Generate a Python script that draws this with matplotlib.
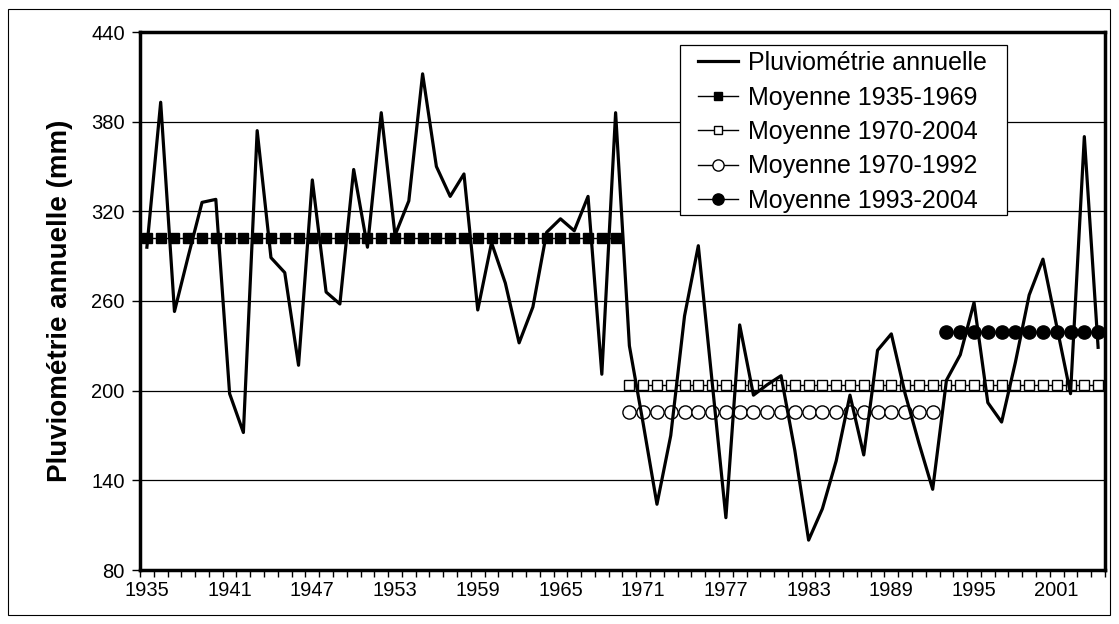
import matplotlib
matplotlib.use("Agg")
import matplotlib.pyplot as plt
from matplotlib.patches import Rectangle
import numpy as np

years = list(range(1935, 2005))
rain = [296, 393, 253, 290, 326, 328, 198, 172, 374, 289, 279, 217, 341, 266, 258, 348,
        296, 386, 304, 327, 412, 350, 330, 345, 254, 299, 272, 232, 256, 306, 315, 307,
        330, 211, 386, 230, 178, 124, 170, 250, 297, 206, 115, 244, 197, 204, 210, 160,
        100, 121, 153, 197, 157, 227, 238, 198, 165, 134, 207, 224, 259, 192, 179, 219,
        264, 288, 243, 198, 370, 229]

mean_3569 = 302
mean_7004 = 204
mean_7092 = 186
mean_9304 = 239

yticks = [80, 140, 200, 260, 320, 380, 440]
xlabels = list(range(1935, 2005, 6))

plt.rcParams['font.family'] = ['Liberation Sans', 'DejaVu Sans']

W, H = 1119, 624
fig = plt.figure(figsize=(W/100, H/100), dpi=100)
L, R, T, B = 140, 1105, 32, 570
ax = fig.add_axes([L/W, 1 - B/H, (R-L)/W, (B-T)/H])

fig.patches.append(Rectangle((8/W, 9/H), 1102/W, 606/H, transform=fig.transFigure,
                             fill=False, edgecolor='black', linewidth=0.8))

for yv in yticks[1:-1]:
    ax.axhline(yv, color='black', linewidth=0.9, zorder=1)

y1 = [y for y in years if 1935 <= y <= 1969]
y2 = [y for y in years if 1970 <= y <= 2004]
y3 = [y for y in years if 1970 <= y <= 1992]
y4 = [y for y in years if 1993 <= y <= 2004]

l0, = ax.plot(years, rain, color='black', linewidth=2.3, zorder=5, label='Pluviométrie annuelle')
l1, = ax.plot(y1, [mean_3569]*len(y1), color='black', linewidth=1, marker='s', markersize=7.5,
              markerfacecolor='black', markeredgecolor='black', zorder=3, label='Moyenne 1935-1969')
l2, = ax.plot(y2, [mean_7004]*len(y2), color='black', linewidth=1, marker='s', markersize=7,
              markerfacecolor='white', markeredgecolor='black', markeredgewidth=1, zorder=3,
              label='Moyenne 1970-2004')
l3, = ax.plot(y3, [mean_7092]*len(y3), color='black', linewidth=1, marker='o', markersize=9.5,
              markerfacecolor='white', markeredgecolor='black', markeredgewidth=1, zorder=3,
              label='Moyenne 1970-1992')
l4, = ax.plot(y4, [mean_9304]*len(y4), color='black', linewidth=1, marker='o', markersize=9.5,
              markerfacecolor='black', markeredgecolor='black', zorder=3, label='Moyenne 1993-2004')

ax.set_xlim(1934.5, 2004.5)
ax.set_ylim(80, 440)
ax.set_yticks(yticks)
ax.set_yticklabels([str(v) for v in yticks], fontsize=14.5)
ax.set_xticks(xlabels)
ax.set_xticklabels([str(v) for v in xlabels], fontsize=14.5)
ax.tick_params(axis='x', which='major', length=0, pad=8)
ax.set_xticks(np.arange(1934.5, 2005, 1), minor=True)
ax.tick_params(axis='x', which='minor', length=5, width=1, direction='out')
ax.tick_params(axis='y', which='major', length=6, width=1, direction='out', pad=5)

for s in ax.spines.values():
    s.set_linewidth(2.5)
    s.set_zorder(6)

ax.set_ylabel('Pluviométrie annuelle (mm)', fontsize=20, fontweight='bold', labelpad=13)

# legend frame (drawn separately so the horizontal padding can match)
lx0, lx1, ly0, ly1 = 680, 1007, 45, 215
ax.add_patch(Rectangle(((lx0-L)/(R-L), (B-ly1)/(B-T)), (lx1-lx0)/(R-L), (ly1-ly0)/(B-T),
                       transform=ax.transAxes, facecolor='white', edgecolor='black',
                       linewidth=0.9, zorder=9))
leg = ax.legend(handles=[l0, l1, l2, l3, l4], loc='upper left',
                bbox_to_anchor=((698-L)/(R-L), (B-51)/(B-T)),
                fontsize=18, frameon=False,
                handlelength=1.6, handletextpad=0.4, labelspacing=0.42, borderpad=0,
                borderaxespad=0, markerscale=0.85)
leg.set_zorder(10)

fig.savefig('out.png', dpi=100)
